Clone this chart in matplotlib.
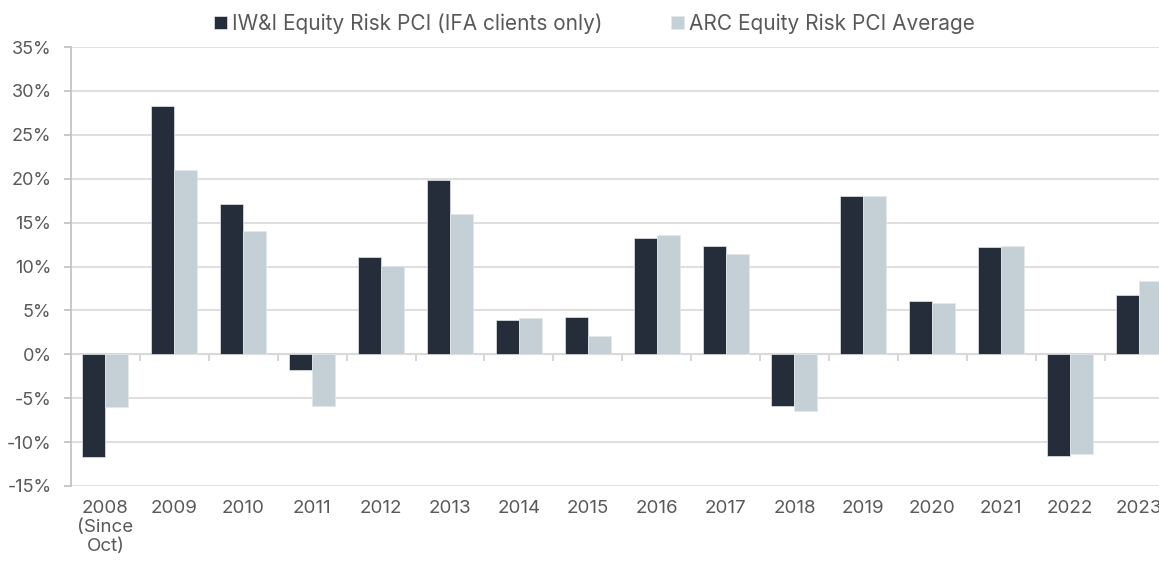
import matplotlib.pyplot as plt
import numpy as np

# data
years = ["2008\n(Since\nOct)", "2009", "2010", "2011", "2012", "2013", "2014", "2015",
         "2016", "2017", "2018", "2019", "2020", "2021", "2022", "2023"]
iwi = [-11.7, 28.3, 17.1, -1.8, 11.1, 19.8, 3.9, 4.2,
       13.2, 12.3, -5.9, 18.0, 6.1, 12.2, -11.6, 6.8]
arc = [-6.0, 21.0, 14.0, -5.9, 10.1, 16.0, 4.1, 2.1,
       13.6, 11.4, -6.5, 18.0, 5.8, 12.3, -11.4, 8.3]
series_names = ["IW&I Equity Risk PCI (IFA clients only)", "ARC Equity Risk PCI Average"]

dark = "#252c3a"
light = "#c5d0d6"
text_col = "#595959"
grid_col = "#d9d9d9"

plt.rcParams['font.family'] = ['Inter', 'DejaVu Sans']

fig = plt.figure(figsize=(11.59, 5.63), dpi=100)
ax = fig.add_axes([71 / 1159, 77 / 563, 1102.4 / 1159, 439 / 563])

x = np.arange(len(years))
w = 1 / 3
ax.bar(x - w / 2, iwi, w, color=dark, edgecolor="#e3e7ea", linewidth=0.5,
       label=series_names[0], zorder=3)
ax.bar(x + w / 2, arc, w, color=light, edgecolor="#e3e7ea", linewidth=0.5,
       label=series_names[1], zorder=3)

ax.set_xlim(-0.5, len(years) - 0.5)
ax.set_ylim(-15, 35)
ax.set_yticks(np.arange(-15, 36, 5))
ax.set_yticklabels([f"{v}%" for v in range(-15, 36, 5)])
ax.grid(axis="y", color=grid_col, linewidth=1.2, zorder=0)
ax.axhline(0, color=grid_col, linewidth=1.5, zorder=2)

for s in ["top", "right", "bottom"]:
    ax.spines[s].set_visible(False)
ax.spines["left"].set_color("#bfbfbf")
ax.spines["left"].set_linewidth(1.2)

ax.set_xticks(x)
ax.set_xticklabels(years, linespacing=1.15)
ax.tick_params(axis="x", length=0, pad=10, labelsize=13.5, labelcolor=text_col)
ax.tick_params(axis="y", length=5, width=1.2, color="#bfbfbf", pad=9,
               labelsize=13, labelcolor=text_col)

# category separator ticks on the zero line
sec = ax.secondary_xaxis(15 / 50)
sec.set_xticks(np.arange(0.5, len(years) - 0.5, 1))
sec.set_xticklabels([])
sec.tick_params(length=5, width=1.2, color="#cfcfcf")
sec.spines["bottom"].set_visible(False)

leg = fig.legend(loc="center", bbox_to_anchor=(0.513, 0.958), ncol=2, frameon=False,
                 fontsize=15, handlelength=0.62, handleheight=0.62, handletextpad=0.25,
                 columnspacing=3.3, labelcolor=text_col)

fig.savefig("out.png", dpi=100)
